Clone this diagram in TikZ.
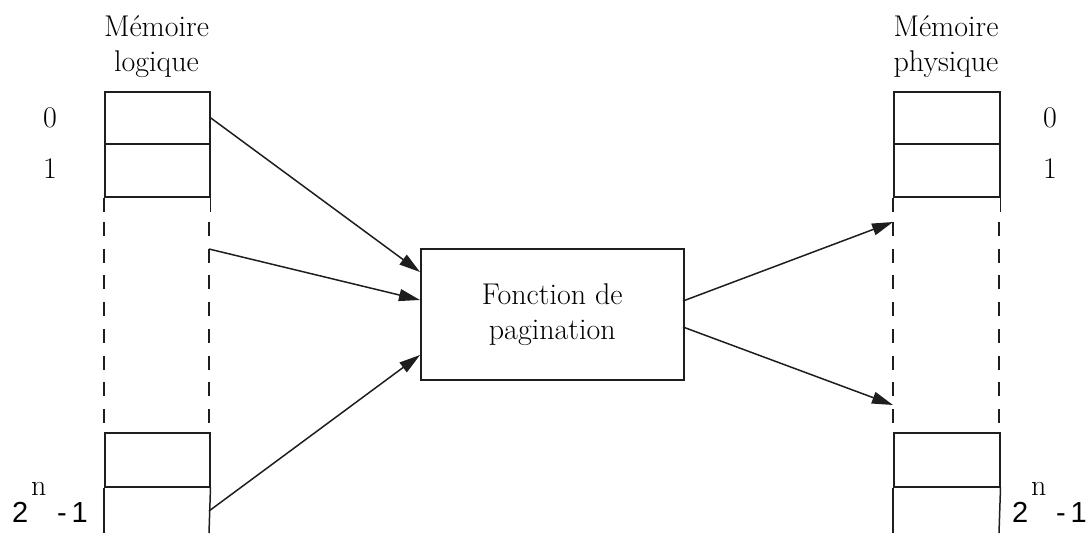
\documentclass[tikz,border=0pt]{standalone}
\usepackage{fontspec}
\newfontfamily\lsans{Liberation Sans}
\usetikzlibrary{arrows.meta}
\definecolor{ink}{RGB}{30,30,30}
\begin{document}
\begin{tikzpicture}[x=1pt,y=-1pt,
  line/.style={draw=ink,line width=1.5pt},
  cell/.style={line,minimum width=105pt,minimum height=52.5pt,inner sep=0pt,anchor=north west},
  dashline/.style={line,dash pattern=on 14pt off 12.7pt},
  arr/.style={line,-{Triangle[length=21pt,width=12pt]}},
  txt/.style={inner sep=0pt,font=\fontsize{30}{35}\selectfont},
  stxt/.style={inner sep=0pt,font=\fontsize{29}{34}\selectfont\lsans},
  title/.style={txt,align=center,anchor=base}]
\useasboundingbox (0,0) rectangle (1089,533);
% ---------- left memory ----------
\node[title] (tl) at (156.5,71) {Mémoire\\logique};
\node[cell,minimum height=52pt] (L0) at (104,91) {};
\node[cell,minimum height=53pt] (L1) at (104,143) {};
\draw[line] (L1.south west) -- ++(0,14) coordinate (la);
\draw[line] (L1.south east) -- ++(0,14) coordinate (lb);
\coordinate (lc) at (104,222); \coordinate (ld) at (209,222);
\coordinate (le) at (104,423); \coordinate (lf) at (209,423);
\draw[dashline] (lc) -- (le);
\draw[dashline] (ld) -- (lf);
\node[cell,minimum height=54pt] (Ln1) at (104,432) {};
\coordinate (Lnw) at (104,533); \coordinate (Lne) at (209,533);
\draw[line] (Ln1.south west) -- (Lnw);
\draw[line] (Ln1.south east) -- (Lne);
\coordinate (Ln) at (209,511);
\coordinate (Lm) at (209,249);
\node[txt,anchor=base] (l0) at (50,127) {0};
\node[txt,anchor=base] (l1) at (50,178) {1};
\node[stxt,anchor=base west] (l2) at (12,522) {2};
\node[txt,anchor=base west] (ln) at (31,495) {n};
\node[stxt,anchor=base west] (l3) at (57,522) {-\,1};
% ---------- right memory ----------
\node[title] (tr) at (946,71) {Mémoire\\physique};
\node[cell,minimum height=52pt,minimum width=106pt] (R0) at (893,91) {};
\node[cell,minimum height=53pt,minimum width=106pt] (R1) at (893,143) {};
\draw[line] (R1.south west) -- ++(0,14) coordinate (ra);
\draw[line] (R1.south east) -- ++(0,14) coordinate (rb);
\coordinate (rc) at (893,222); \coordinate (rd) at (999,222);
\coordinate (re) at (893,423); \coordinate (rf) at (999,423);
\draw[dashline] (rc) -- (re);
\draw[dashline] (rd) -- (rf);
\node[cell,minimum height=54pt,minimum width=106pt] (Rn1) at (893,432) {};
\coordinate (Rnw) at (893,533); \coordinate (Rne) at (999,533);
\draw[line] (Rn1.south west) -- (Rnw);
\draw[line] (Rn1.south east) -- (Rne);
\coordinate (Rt) at (893,222);
\coordinate (Rb) at (893,405);
\node[txt,anchor=base] (r0) at (1050,127) {0};
\node[txt,anchor=base] (r1) at (1050,178) {1};
\node[stxt,anchor=base west] (r2) at (1012,522) {2};
\node[txt,anchor=base west] (rn) at (1031,495) {n};
\node[stxt,anchor=base west] (r3) at (1056,522) {-\,1};
% ---------- function box ----------
\node[line,txt,minimum width=263pt,minimum height=131pt,align=center,anchor=north west] (F) at (420,248) {Fonction de\\pagination};
\coordinate (Fa) at (420,272);
\coordinate (Fb) at (420,300);
\coordinate (Fc) at (420,355);
\coordinate (Fd) at (683,301);
\coordinate (Fe) at (683,327);
% ---------- arrows ----------
\draw[arr] (L0.east) -- (Fa);
\draw[arr] (Lm) -- (Fb);
\draw[arr] (Ln) -- (Fc);
\draw[arr] (Fd) -- (Rt);
\draw[arr] (Fe) -- (Rb);
\end{tikzpicture}
\end{document}
